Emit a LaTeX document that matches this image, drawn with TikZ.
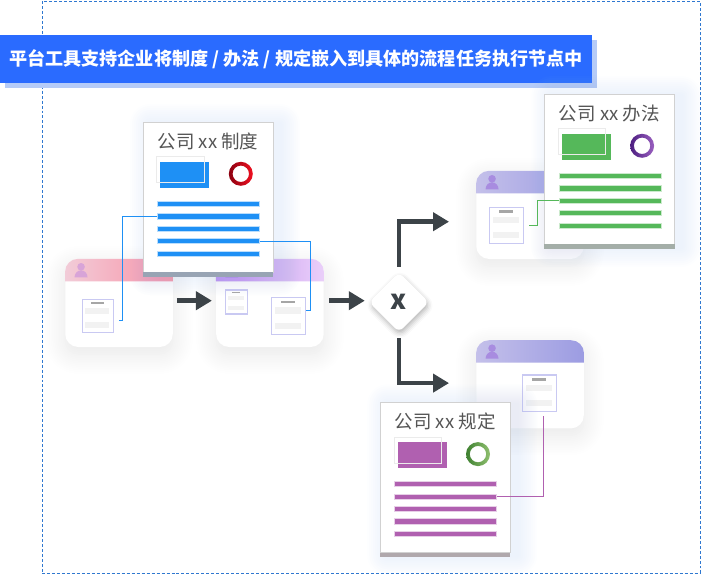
\documentclass[tikz,border=0pt]{standalone}
\usepackage{fontspec}
\setmainfont{Noto Sans CJK SC}
\usetikzlibrary{arrows.meta,positioning,shapes.geometric,calc,shadows.blur}
\definecolor{bannerblue}{HTML}{2A6BFF}
\definecolor{bannerback}{HTML}{B5CBF8}
\definecolor{framedash}{HTML}{2F78D0}
\definecolor{arrowdark}{HTML}{3C4348}
\definecolor{sheetblue}{HTML}{1E90F5}
\definecolor{sheetgreen}{HTML}{55B85A}
\definecolor{sheetpurple}{HTML}{B060B0}
\definecolor{sheetglow}{HTML}{A8C4F0}
\definecolor{titlegrey}{HTML}{555555}
\definecolor{formedge}{HTML}{C9C9F2}
\begin{document}
\begin{tikzpicture}[x=1bp,y=-1bp,
      framebox/.style={draw=framedash,densely dashed,line width=.7bp,minimum width=658bp,minimum height=572bp},
      banner/.style={fill=bannerblue,text=white,font=\fontsize{18.1bp}{20bp}\selectfont\bfseries,minimum width=592bp,minimum height=48bp,inner sep=0},
      card/.style={fill=white,rounded corners=13bp,minimum width=107.5bp,minimum height=88bp,inner sep=0,
        blur shadow={shadow xshift=0bp,shadow yshift=-7bp,shadow blur radius=20bp,shadow opacity=10,shadow blur steps=12}},
      sheet/.style={draw=black!18,line width=.4bp,fill=white,minimum width=130bp,minimum height=150bp,inner sep=0},
      sheettitle/.style={text=titlegrey,font=\fontsize{18.5bp}{20bp}\selectfont,inner sep=0},
      sheetrect/.style={minimum width=49bp,minimum height=26bp,inner sep=0},
      sheetghost/.style={draw=black!8,line width=.6bp,minimum width=47.5bp,minimum height=26bp,inner sep=0},
      sheetline/.style={minimum width=102bp,minimum height=5.5bp,inner sep=0},
      formbox/.style={draw=formedge,line width=1.3bp,fill=white,inner sep=0},
      gate/.style={diamond,fill=white,rounded corners=6bp,minimum size=60bp,inner sep=0,text=arrowdark,
        font=\fontsize{27bp}{27bp}\selectfont\bfseries,
        blur shadow={shadow xshift=1bp,shadow yshift=-3bp,shadow blur radius=5bp,shadow opacity=30}},
      flow/.style={arrowdark,line width=4.6bp,-{Triangle[length=16bp,width=18bp]}},
      link/.style={line width=.8bp}
    ]
      \useasboundingbox (0,0) rectangle (702,574);
      \node[framebox] (frame) at (371,287) {};
      \node[fill=bannerback,minimum width=592bp,minimum height=48bp] (backing) at (301,64) {};
      \node[banner] (title) at (296,59) {平台工具支持企业将制度 / 办法 / 规定嵌入到具体的流程任务执行节点中};

      \node[card] (cardA) at (119,303) {};
      \node[card,right=43bp of cardA] (cardB) {};
      \node[card] (cardC) at (530,215) {};
      \node[card,below=81bp of cardC] (cardD) {};

      \foreach \nm/\ca/\cb/\ci in {cardA/F2CCD8/F892A6/D8A4D8,cardB/BE8CF0/EACFF9/A070D8,cardC/C4C0EA/9C9CE2/A88CE0,cardD/C4C0EA/9C9CE2/A88CE0} {
        \definecolor{hleft}{HTML}{\ca}
        \definecolor{hright}{HTML}{\cb}
        \definecolor{hicon}{HTML}{\ci}
        \path[left color=hleft,right color=hright] ([yshift=-22.5bp]\nm.north west) [rounded corners=13bp] -- (\nm.north west) -- (\nm.north east) [sharp corners] -- ([yshift=-22.5bp]\nm.north east) -- cycle;
        \fill[hicon] ([shift={(16,8)}]\nm.north west) circle (3.8bp);
        \fill[hicon] ([shift={(9.5,18.5)}]\nm.north west) arc[start angle=180,end angle=0,x radius=6.5bp,y radius=7bp] -- cycle;
      }

      \foreach \nm/\x/\y/\w/\h in {formA/98/316/31.5/33.5,formB/236.7/302/22/24,formC/288.5/316/34.5/36.5,formD/506.5/225.3/34.5/36,formE/539.5/393.3/34.5/36.5} {
        \node[formbox,minimum width=\w bp,minimum height=\h bp] (\nm) at (\x,\y) {};
        \fill[black!35] ($(\nm.north west)+(.3*\w,.1*\h)$) rectangle ++(.4*\w,.07*\h);
        \fill[black!5] ($(\nm.north west)+(.12*\w,.28*\h)$) rectangle ++(.76*\w,.17*\h);
        \fill[black!5] ($(\nm.north west)+(.12*\w,.7*\h)$) rectangle ++(.76*\w,.17*\h);
      }

      \foreach \nm/\x/\y/\ttl/\col/\ra/\rb/\ed in {
          sheetA/208/197/公司 xx 制度/sheetblue/8C0010/F01020/98A4B4,
          sheetB/609.3/169/公司 xx 办法/sheetgreen/4C1E80/9A60C0/A4AEA8,
          sheetC/445.2/477.3/公司 xx 规定/sheetpurple/3E8030/90C070/B0A8AC} {
        \definecolor{redge}{HTML}{\ed}
        \definecolor{rdark}{HTML}{\ra}
        \definecolor{rlight}{HTML}{\rb}
        \foreach \k in {1,...,10} {
          \fill[sheetglow,opacity=.024,rounded corners=2*\k bp] (\x-58-2*\k,\y-73-2*\k) rectangle (\x+72+2*\k,\y+78+2*\k);
        }
        \node[sheet] (\nm) at (\x,\y) {};
        \fill[redge] ([yshift=-4.5bp]\nm.south west) rectangle (\nm.south east);
        \node[sheettitle] (\nm-title) at ([yshift=-19.5bp]\nm.north) {\ttl};
        \node[sheetrect,fill=\col] (\nm-rect) at ([shift={(42,53)}]\nm.north west) {};
        \node[sheetghost] (\nm-ghost) at ([shift={(37.7,48)}]\nm.north west) {};
        \path[even odd rule,left color=rdark,right color=rlight] ([shift={(98,52)}]\nm.north west) circle (12bp) ([shift={(98,52)}]\nm.north west) circle (8.2bp);
        \foreach \i/\dy in {1/82,2/94.7,3/107,4/119.3,5/132} {
          \node[sheetline,fill=\col,draw=\col!30,line width=.8bp] (\nm-\i) at ([shift={(65.8,\dy)}]\nm.north west) {};
        }
      }

      \node[gate] (fork) at (399,302.3) {x};

      \draw[flow,shorten <=4bp,shorten >=4bp] ([yshift=2.3bp]cardA.east) -- ([yshift=2.3bp]cardB.west);
      \draw[flow,shorten <=5.5bp,shorten >=4bp] ([yshift=2.3bp]cardB.east) -- ([yshift=1.6bp]fork.west);
      \draw[flow,shorten <=5.5bp,shorten >=27bp] (fork.north) |- ([yshift=-6.7bp]cardC.west);
      \draw[flow,shorten <=5.5bp,shorten >=27bp] (fork.south) |- ([yshift=1.3bp]cardD.west);

      \draw[link,sheetblue,shorten >=5bp] (sheetA-2.west) -- ++(-35,0) |- ([yshift=-4.3bp]formA.east);
      \draw[link,sheetblue] (sheetA-4.east) -- ++(50.2,0) |- ([yshift=5.3bp]formC.east);
      \draw[link,sheetgreen,shorten >=4.5bp] (sheetB-3.west) -- ++(-20.7,0) |- (formD.east);
      \draw[link,sheetpurple,shorten >=3.5bp] (sheetC-2.east) -| ([xshift=3.8bp]formE.south);
    \end{tikzpicture}
\end{document}
